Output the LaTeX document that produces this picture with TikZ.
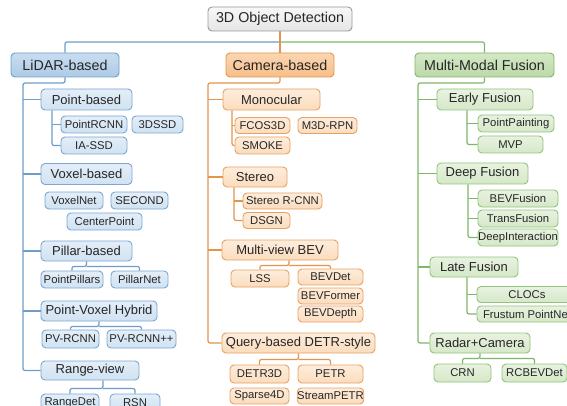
\documentclass[tikz,border=0pt]{standalone}
\usepackage{fontspec}
\setmainfont{Liberation Sans}
\usetikzlibrary{positioning}

\definecolor{lidarLine}{HTML}{6E9DC9}
\definecolor{lidarEdge}{HTML}{7DA7D1}
\definecolor{lidarHeadA}{HTML}{C9DDF0}
\definecolor{lidarHeadB}{HTML}{AECAE6}
\definecolor{lidarLeafA}{HTML}{E3EEF8}
\definecolor{lidarLeafB}{HTML}{D0E2F2}
\definecolor{camLine}{HTML}{E4954C}
\definecolor{camEdge}{HTML}{E8A263}
\definecolor{camHeadA}{HTML}{FBD6B3}
\definecolor{camHeadB}{HTML}{F7BE89}
\definecolor{camLeafA}{HTML}{FDEDDC}
\definecolor{camLeafB}{HTML}{FBDCBD}
\definecolor{fuseLine}{HTML}{80B667}
\definecolor{fuseEdge}{HTML}{93C47D}
\definecolor{fuseHeadA}{HTML}{D4E8C6}
\definecolor{fuseHeadB}{HTML}{BCD9A8}
\definecolor{fuseLeafA}{HTML}{E8F2E0}
\definecolor{fuseLeafB}{HTML}{D5E8C8}

\tikzset{
  box/.style={draw, rounded corners=4pt, inner sep=0pt, line width=0.9pt, text=black!85},
  headfont/.style={font=\fontsize{14.3}{16}\selectfont},
  subfont/.style={font=\fontsize{13}{15}\selectfont},
  leaffont/.style={font=\fontsize{11.3}{13}\selectfont},
  rootbox/.style={box, headfont, draw=black!40, top color=black!3, bottom color=black!10},
  lidarhead/.style={box, headfont, draw=lidarLine, top color=lidarHeadA, bottom color=lidarHeadB},
  lidarsub/.style={box, subfont, draw=lidarEdge, top color=lidarLeafA, bottom color=lidarLeafB},
  lidarleaf/.style={box, leaffont, draw=lidarEdge, top color=lidarLeafA, bottom color=lidarLeafB},
  camhead/.style={box, headfont, draw=camLine, top color=camHeadA, bottom color=camHeadB},
  camsub/.style={box, subfont, draw=camEdge, top color=camLeafA, bottom color=camLeafB},
  camleaf/.style={box, leaffont, draw=camEdge, top color=camLeafA, bottom color=camLeafB},
  fusehead/.style={box, headfont, draw=fuseLine, top color=fuseHeadA, bottom color=fuseHeadB},
  fusesub/.style={box, subfont, draw=fuseEdge, top color=fuseLeafA, bottom color=fuseLeafB},
  fuseleaf/.style={box, leaffont, draw=fuseEdge, top color=fuseLeafA, bottom color=fuseLeafB},
  wire/.style={line width=1.2pt, rounded corners=2pt},
  lidarwire/.style={wire, draw=lidarLine},
  camwire/.style={wire, draw=camLine},
  fusewire/.style={wire, draw=fuseLine},
}

\begin{document}
\begin{tikzpicture}[x=1pt, y=-1pt]
    \useasboundingbox (0,0) rectangle (567,406);
    \fill[white] (0,0) rectangle (567,406);
    \clip (0,0) rectangle (567,406);

    % root and the three families
    \node[rootbox, minimum width=144, minimum height=24] (root) at (280,19) {3D Object Detection};
    \node[lidarhead, minimum width=108, minimum height=24] (lidar) at (65,65) {LiDAR-based};
    \node[camhead, minimum width=108, minimum height=24] (camera) at (280,65) {Camera-based};
    \node[fusehead, minimum width=139, minimum height=24] (mmf) at (484.5,65) {Multi-Modal Fusion};

    % LiDAR-based
    \node[lidarsub, minimum width=91, minimum height=21] (pointb) at (86.5,99.5) {Point-based};
    \node[lidarleaf, minimum width=66, minimum height=17] (prcnn) at (94,124.5) {PointRCNN};
    \node[lidarleaf, minimum width=51, minimum height=17] (sssd) at (157.5,124.5) {3DSSD};
    \node[lidarleaf, minimum width=66, minimum height=17] (iassd) at (94,145.5) {IA-SSD};
    \node[lidarsub, minimum width=91, minimum height=21] (voxelb) at (86.5,174) {Voxel-based};
    \node[lidarleaf, minimum width=58, minimum height=17] (voxelnet) at (74,200.5) {VoxelNet};
    \node[lidarleaf, minimum width=57, minimum height=17] (second) at (139.5,200.5) {SECOND};
    \node[lidarleaf, minimum width=75, minimum height=17] (centerpt) at (104.5,221.5) {CenterPoint};
    \node[lidarsub, minimum width=91, minimum height=20] (pillarb) at (86.5,251) {Pillar-based};
    \node[lidarleaf, minimum width=62, minimum height=17] (pointpillars) at (72,279.5) {PointPillars};
    \node[lidarleaf, minimum width=57, minimum height=17] (pillarnet) at (139.5,279.5) {PillarNet};
    \node[lidarsub, minimum width=116, minimum height=20] (pvhybrid) at (99,311) {Point-Voxel Hybrid};
    \node[lidarleaf, minimum width=57, minimum height=18] (pvrcnn) at (70.5,339) {PV-RCNN};
    \node[lidarleaf, minimum width=69, minimum height=18] (pvrcnnpp) at (141.5,339) {PV-RCNN++};
    \node[lidarsub, minimum width=98, minimum height=19] (rangev) at (90,370.5) {Range-view};
    \node[lidarleaf, minimum width=58, minimum height=17] (rangedet) at (70,402.5) {RangeDet};
    \node[lidarleaf, minimum width=50, minimum height=17] (rsn) at (135,402.5) {RSN};

    % Camera-based
    \node[camsub, minimum width=97, minimum height=21] (mono) at (271.5,99.5) {Monocular};
    \node[camleaf, minimum width=55, minimum height=16] (fcos) at (262.5,125.5) {FCOS3D};
    \node[camleaf, minimum width=59, minimum height=16] (m3drpn) at (327.5,125.5) {M3D-RPN};
    \node[camleaf, minimum width=55, minimum height=17] (smoke) at (262.5,145.5) {SMOKE};
    \node[camsub, minimum width=64, minimum height=20] (stereo) at (255,177) {Stereo};
    \node[camleaf, minimum width=79, minimum height=16] (stereorcnn) at (282.5,201) {Stereo R-CNN};
    \node[camleaf, minimum width=47, minimum height=16] (dsgn) at (266.5,220.5) {DSGN};
    \node[camsub, minimum width=116, minimum height=20] (mvbev) at (280,250) {Multi-view BEV};
    \node[camleaf, minimum width=58, minimum height=17] (lss) at (260,278.5) {LSS};
    \node[camleaf, minimum width=65, minimum height=16] (bevdet) at (330.5,277) {BEVDet};
    \node[camleaf, minimum width=65, minimum height=16] (bevformer) at (330.5,296) {BEVFormer};
    \node[camleaf, minimum width=65, minimum height=16] (bevdepth) at (330.5,314) {BEVDepth};
    \node[camsub, minimum width=153, minimum height=20] (query) at (298.5,343) {Query-based DETR-style};
    \node[camleaf, minimum width=59, minimum height=18] (detr3d) at (259.5,374) {DETR3D};
    \node[camleaf, minimum width=65, minimum height=18] (petr) at (330.5,374) {PETR};
    \node[camleaf, minimum width=59, minimum height=16] (sparse4d) at (259.5,396) {Sparse4D};
    \node[camleaf, minimum width=65, minimum height=16] (streampetr) at (330.5,396) {StreamPETR};

    % Multi-Modal Fusion
    \node[fusesub, minimum width=96, minimum height=21] (early) at (485,99.5) {Early Fusion};
    \node[fuseleaf, minimum width=76, minimum height=17] (ppaint) at (516,123.5) {PointPainting};
    \node[fuseleaf, minimum width=65, minimum height=17] (mvp) at (510.5,144.5) {MVP};
    \node[fusesub, minimum width=91, minimum height=21] (deep) at (482.5,173.5) {Deep Fusion};
    \node[fuseleaf, minimum width=80, minimum height=17] (bevfusion) at (518,198.5) {BEVFusion};
    \node[fuseleaf, minimum width=80, minimum height=17] (transfusion) at (518,218.5) {TransFusion};
    \node[fuseleaf, minimum width=80, minimum height=17] (deepinter) at (518,237.5) {DeepInteraction};
    \node[fusesub, minimum width=88, minimum height=20] (late) at (474,267) {Late Fusion};
    \node[fuseleaf, minimum width=100, minimum height=16] (clocs) at (527,294.5) {CLOCs};
    \node[fuseleaf, minimum width=100, minimum height=16] (frustum) at (527,314) {Frustum PointNet};
    \node[fusesub, minimum width=100, minimum height=20] (radar) at (480,343) {Radar+Camera};
    \node[fuseleaf, minimum width=57, minimum height=18] (crn) at (462.5,373) {CRN};
    \node[fuseleaf, minimum width=65, minimum height=18] (rcbev) at (534.5,373) {RCBEVDet};

    % top level wiring
    \coordinate (split) at (280,42);
    \draw[lidarwire] (split) -| (lidar.north);
    \draw[fusewire] (split) -| (mmf.north);
    \draw[camwire, rounded corners=0pt] (root.south) -- (camera.north);

    % trunks
    \coordinate (lidarT) at (23,83);
    \coordinate (camT) at (208,83);
    \coordinate (fuseT) at (418,83);
    \draw[lidarwire] (lidar.south) |- (lidarT) |- (rangev.west);
    \draw[camwire] (camera.south) |- (camT) |- (query.west);
    \draw[fusewire] (mmf.south) |- (fuseT) |- (radar.west);
    \foreach \n in {pointb,voxelb,pillarb,pvhybrid}
        \draw[lidarwire] (lidarT |- \n.west) -- (\n.west);
    \foreach \n in {mono,stereo,mvbev}
        \draw[camwire] (camT |- \n.west) -- (\n.west);
    \foreach \n in {early,deep,late}
        \draw[fusewire] (fuseT |- \n.west) -- (\n.west);

    % side branches
    \coordinate (pointbT) at (52,0);
    \draw[lidarwire] (pointbT |- pointb.south) |- (iassd.west);
    \draw[lidarwire] (pointbT |- prcnn.west) -- (prcnn.west);
    \coordinate (monoT) at (232,0);
    \draw[camwire] (monoT |- mono.south) |- (smoke.west);
    \draw[camwire] (monoT |- fcos.west) -- (fcos.west);
    \coordinate (stereoT) at (234,0);
    \draw[camwire] (stereoT |- stereo.south) |- (dsgn.west);
    \draw[camwire] (stereoT |- stereorcnn.west) -- (stereorcnn.west);
    \coordinate (earlyT) at (467,0);
    \draw[fusewire] (earlyT |- early.south) |- (mvp.west);
    \draw[fusewire] (earlyT |- ppaint.west) -- (ppaint.west);
    \coordinate (deepT) at (468,0);
    \draw[fusewire] (deepT |- deep.south) |- (deepinter.west);
    \foreach \n in {bevfusion,transfusion}
        \draw[fusewire] (deepT |- \n.west) -- (\n.west);
    \coordinate (lateT) at (467,0);
    \draw[fusewire] (lateT |- late.south) |- (frustum.west);
    \draw[fusewire] (lateT |- clocs.west) -- (clocs.west);

    % forks
    \draw[lidarwire] (pillarb.south) -- ++(0,5) -| (pointpillars.north);
    \draw[lidarwire] (pillarb.south) ++(0,5) -| (pillarnet.north);
    \draw[lidarwire] (pvhybrid.south) -- ++(0,5) -| (pvrcnn.north);
    \draw[lidarwire] (pvhybrid.south) ++(0,5) -| (pvrcnnpp.north);
    \draw[lidarwire] ([xshift=13pt]rangev.south) -- ++(0,8) -| (rangedet.north);
    \draw[lidarwire] ([xshift=13pt]rangev.south) ++(0,8) -| (rsn.north);
    \draw[camwire] ([xshift=9pt]mvbev.south) -- ++(0,5) -| (lss.north);
    \draw[camwire] ([xshift=9pt]mvbev.south) ++(0,5) -| (bevdet.north);
    \draw[camwire] (query.south) -- ++(0,6) -| (detr3d.north);
    \draw[camwire] (query.south) ++(0,6) -| (petr.north);
    \draw[fusewire] (radar.south) -- ++(0,5) -| (crn.north);
    \draw[fusewire] (radar.south) ++(0,5) -| (rcbev.north);
\end{tikzpicture}
\end{document}
